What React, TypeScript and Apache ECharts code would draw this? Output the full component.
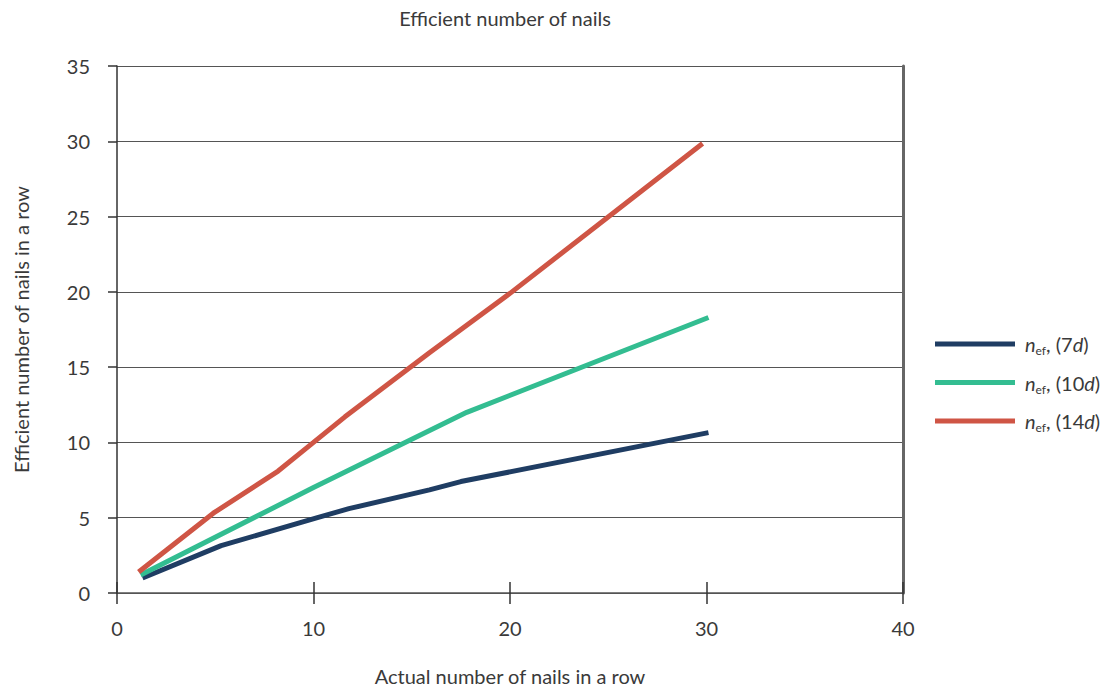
import React, { useEffect, useRef } from "react";
import * as echarts from "echarts";

const seriesNames = ["7d", "10d", "14d"];
const seriesColors = ["#1f3d63", "#33bd91", "#cf5545"];

const dark7d: [number, number][] = [
  [1.3, 1.0], [5.3, 3.15], [10.2, 5.0], [11.8, 5.6], [15.9, 6.85], [17.5, 7.4], [30.1, 10.65],
];
const green10d: [number, number][] = [
  [1.2, 1.2], [10.0, 7.0], [17.8, 12.0], [30.1, 18.3],
];
const red14d: [number, number][] = [
  [1.1, 1.4], [4.9, 5.3], [8.2, 8.1], [10.0, 10.0], [11.6, 11.7], [15.9, 15.95], [20.0, 19.9], [29.8, 29.85],
];

const xTicks = [0, 10, 20, 30, 40];
const yTicks = [0, 5, 10, 15, 20, 25, 30, 35];

const font = "Lato, 'Open Sans', sans-serif";
const textColor = "#3a3a3a";

export default function App() {
  const ref = useRef<HTMLDivElement>(null);
  useEffect(() => {
    document.body.style.margin = "0";
    if (!ref.current) return;
    const chart = echarts.init(ref.current, undefined, { renderer: "svg" });
    const data = [dark7d, green10d, red14d];
    const xMin = xTicks[0];
    const xMax = xTicks[xTicks.length - 1];
    const yMin = yTicks[0];
    const yMax = yTicks[yTicks.length - 1];
    chart.setOption({
      animation: false,
      textStyle: { fontFamily: font },
      graphic: [
        {
          type: "text",
          x: 505,
          y: 18,
          style: {
            text: "Efficient number of nails",
            fontFamily: font,
            fontSize: 20,
            fill: textColor,
            align: "center",
            verticalAlign: "middle",
          },
        },
      ],
      grid: { left: 117, right: 201, top: 66, bottom: 94 },
      legend: {
        orient: "vertical",
        left: 930,
        top: 329,
        itemWidth: 80,
        itemHeight: 5,
        itemGap: 16,
        icon: "rect",
        data: seriesNames,
        formatter: (name: string) => {
          const num = name.replace("d", "");
          return `{f|n}{s|ef}{t|, (${num}}{i|d}{t|)}`;
        },
        textStyle: {
          fontFamily: font,
          fontSize: 20,
          color: textColor,
          rich: {
            f: { fontFamily: font, fontSize: 20, fontStyle: "italic", color: textColor, padding: [0, 0, 0, 5] },
            i: { fontFamily: font, fontSize: 20, fontStyle: "italic", color: textColor },
            t: { fontFamily: font, fontSize: 20, color: textColor },
            s: { fontFamily: font, fontSize: 12, color: textColor, padding: [13, 0, 0, 0] },
          },
        },
      },
      xAxis: [
        {
          type: "value",
          min: xMin,
          max: xMax,
          interval: 10,
          name: "Actual number of nails in a row",
          nameLocation: "middle",
          nameGap: 73,
          nameTextStyle: { fontFamily: font, fontSize: 20, color: textColor },
          axisLine: { show: true, lineStyle: { color: "#555", width: 1.5 } },
          axisTick: { show: true, inside: false, length: 11, lineStyle: { color: "#333", width: 1.5 } },
          axisLabel: { fontFamily: font, fontSize: 20, color: textColor, margin: 25 },
          splitLine: { show: false },
        },
        {
          type: "value",
          min: xMin,
          max: xMax,
          interval: 10,
          position: "bottom",
          axisLine: { show: false },
          axisTick: { show: true, inside: true, length: 11, lineStyle: { color: "#333", width: 1.5 } },
          axisLabel: { show: false },
          splitLine: { show: false },
        },
      ],
      yAxis: [
        {
          type: "value",
          min: yMin,
          max: yMax,
          interval: 5,
          name: "Efficient number of nails in a row",
          nameLocation: "middle",
          nameGap: 86,
          nameTextStyle: { fontFamily: font, fontSize: 20, color: textColor },
          axisLine: { show: true, onZero: false, lineStyle: { color: "#333", width: 1.5 } },
          axisTick: { show: true, inside: false, length: 9, lineStyle: { color: "#333", width: 1.5 } },
          axisLabel: { fontFamily: font, fontSize: 20, color: textColor, margin: 27 },
          splitLine: { show: true, lineStyle: { color: "#555", width: 1 } },
        },
        {
          type: "value",
          min: yMin,
          max: yMax,
          interval: 5,
          position: "right",
          axisLine: { show: true, onZero: false, lineStyle: { color: "#666", width: 3 } },
          axisTick: { show: false },
          axisLabel: { show: false },
          splitLine: { show: false },
        },
      ],
      series: seriesNames.map((n, i) => ({
        name: n,
        type: "line",
        xAxisIndex: 0,
        yAxisIndex: 0,
        data: data[i],
        showSymbol: false,
        symbol: "none",
        lineStyle: { color: seriesColors[i], width: 5 },
        itemStyle: { color: seriesColors[i] },
      })),
    });
    return () => chart.dispose();
  }, []);
  return <div ref={ref} style={{ width: 1104, height: 691 }} />;
}
